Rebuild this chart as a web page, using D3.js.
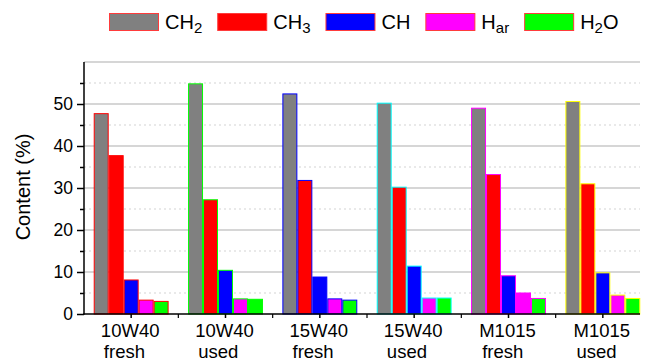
<!DOCTYPE html>
<html>
<head>
<meta charset="utf-8">
<script src="https://cdn.jsdelivr.net/npm/d3@7"></script>
<style>
  body { margin: 0; background: #fff; }
  svg { display: block; font-family: "Liberation Sans", Arial, sans-serif; }
</style>
</head>
<body>
<svg id="chart" width="650" height="361"></svg>
<script>
// ---- data ----
const categories = ["10W40 fresh", "10W40 used", "15W40 fresh", "15W40 used", "M1015 fresh", "M1015 used"];
const seriesNames = ["CH2", "CH3", "CH", "Har", "H2O"];
const valuesCH2 = [47.7, 54.8, 52.4, 50.2, 49.0, 50.6];
const valuesCH3 = [37.7, 27.2, 31.8, 30.2, 33.2, 31.0];
const valuesCH  = [8.1, 10.4, 8.8, 11.4, 9.1, 9.8];
const valuesHar = [3.3, 3.6, 3.6, 3.8, 5.0, 4.5];
const valuesH2O = [3.0, 3.5, 3.3, 3.8, 3.7, 3.7];
const yTickLabels = [0, 10, 20, 30, 40, 50];

// legend labels with subscripts: [main, sub, trailing]
const legendLabels = [["CH", "2", ""], ["CH", "3", ""], ["CH", "", ""], ["H", "ar", ""], ["H", "2", "O"]];

const seriesValues = [valuesCH2, valuesCH3, valuesCH, valuesHar, valuesH2O];
const fillColors = ["#808080", "#ff0000", "#0000ff", "#ff00ff", "#00ff00"];
const groupStroke = ["#ff0000", "#00ff00", "#0000ff", "#00ffff", "#ff00ff", "#ffff00"];

const svg = d3.select("#chart");
const pLeft = 84, pRight = 640, pTop = 62, pBottom = 314;

const x = d3.scaleBand().domain(categories).range([pLeft, 650]).paddingInner(0.206).paddingOuter(0.103);
const xs = d3.scaleBand().domain(seriesNames).range([0, x.bandwidth()]).padding(0);
const y = d3.scaleLinear().domain([0, 60]).range([pBottom, pTop]);

// grid
const major = d3.range(10, 61, 10);
const minor = d3.range(5, 60, 10);
svg.append("g").selectAll("line").data(major).join("line")
  .attr("x1", pLeft).attr("x2", pRight)
  .attr("y1", d => y(d)).attr("y2", d => y(d))
  .attr("stroke", "#c8c8c8").attr("stroke-width", 1.5);
svg.append("g").selectAll("line").data(minor).join("line")
  .attr("x1", pLeft).attr("x2", pRight)
  .attr("y1", d => y(d)).attr("y2", d => y(d))
  .attr("stroke", "#d4d4d4").attr("stroke-width", 1.2).attr("stroke-dasharray", "2,3");

// bars
const table = [];
categories.forEach((c, gi) => seriesNames.forEach((s, si) => table.push({c, s, gi, si, v: seriesValues[si][gi]})));
svg.append("g").selectAll("rect").data(table).join("rect")
  .attr("x", d => x(d.c) + xs(d.s) + 0.5)
  .attr("width", xs.bandwidth() - 1)
  .attr("y", d => y(d.v))
  .attr("height", d => y(0) - y(d.v))
  .attr("fill", d => fillColors[d.si])
  .attr("stroke", d => groupStroke[d.gi])
  .attr("stroke-width", 1);

// y axis
const yAxis = svg.append("g").attr("transform", `translate(${pLeft},0)`)
  .call(d3.axisLeft(y).tickValues(yTickLabels).tickSize(7).tickPadding(4).tickFormat(d3.format("d")));
yAxis.select(".domain").remove();
yAxis.selectAll(".tick line").attr("stroke", "#000").attr("stroke-width", 1.5);
yAxis.selectAll(".tick text").attr("font-size", 17.5).attr("fill", "#000")
  .attr("font-family", "Liberation Sans, Arial, sans-serif");
const yMinor = svg.append("g").attr("transform", `translate(${pLeft},0)`)
  .call(d3.axisLeft(y).tickValues(minor).tickSize(4).tickFormat(""));
yMinor.select(".domain").remove();
yMinor.selectAll(".tick line").attr("stroke", "#000").attr("stroke-width", 1.5);
svg.append("line").attr("x1", pLeft).attr("x2", pLeft).attr("y1", pTop).attr("y2", pBottom + 0.75)
  .attr("stroke", "#000").attr("stroke-width", 1.5);

// x axis
const xAxis = svg.append("g").attr("transform", `translate(0,${pBottom})`)
  .call(d3.axisBottom(x).tickSize(4).tickFormat(""));
xAxis.select(".domain").remove();
xAxis.selectAll(".tick line").attr("stroke", "#000").attr("stroke-width", 1.5);
const boundaries = categories.slice(1).map(c => x(c) - x.step() * x.paddingInner() / 2);
svg.append("g").selectAll("line").data(boundaries).join("line")
  .attr("x1", d => d).attr("x2", d => d).attr("y1", pBottom).attr("y2", pBottom + 4)
  .attr("stroke", "#000").attr("stroke-width", 1.2);
svg.append("line").attr("x1", pLeft - 0.75).attr("x2", pRight).attr("y1", pBottom).attr("y2", pBottom)
  .attr("stroke", "#000").attr("stroke-width", 1.5);

const xlG = svg.append("g").attr("font-size", 18.5).attr("fill", "#000");
categories.forEach(c => {
  const [l1, l2] = c.split(" ");
  const t1 = xlG.append("text").attr("text-anchor", "middle")
    .attr("x", x(c) + x.bandwidth() / 2 - 1).attr("y", 337).text(l1);
  const w1 = t1.node().getComputedTextLength();
  xlG.append("text").attr("text-anchor", "start")
    .attr("x", x(c) + x.bandwidth() / 2 - 1 - w1 / 2 + 3).attr("y", 358).text(l2);
});

// y label
svg.append("text").attr("transform", `translate(30,187) rotate(-90)`)
  .attr("text-anchor", "middle").attr("font-size", 20).attr("fill", "#000").text("Content (%)");

// legend
const leg = svg.append("g");
let lx = 109;
legendLabels.forEach((lab, i) => {
  leg.append("rect").attr("x", lx + 0.5).attr("y", 13.5).attr("width", 49).attr("height", 17)
    .attr("fill", fillColors[i]).attr("stroke", "#ff3b3b").attr("stroke-width", 1);
  const t = leg.append("text").attr("x", lx + 56).attr("y", 28.5).attr("font-size", 20).attr("fill", "#000");
  t.append("tspan").text(lab[0]);
  if (lab[1]) t.append("tspan").attr("font-size", 15).attr("dy", 4.5).text(lab[1]);
  if (lab[2]) t.append("tspan").attr("dy", -4.5).text(lab[2]);
  lx = lx + 56 + t.node().getComputedTextLength() + 15;
});
</script>
</body>
</html>
